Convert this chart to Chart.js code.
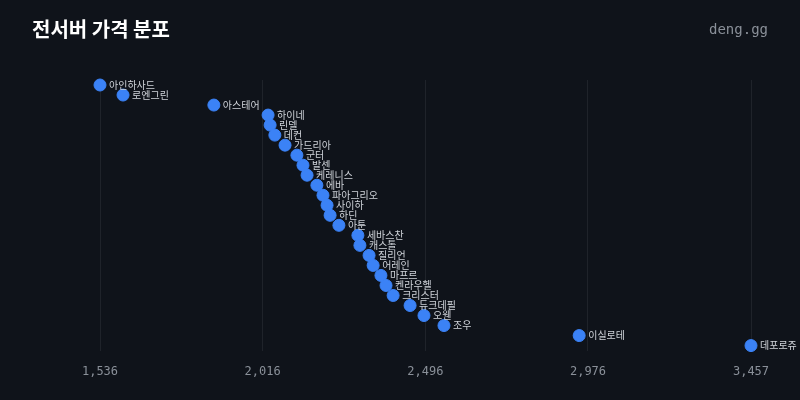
<!DOCTYPE html>
<html><head><meta charset="utf-8">
<script src="https://cdn.jsdelivr.net/npm/chart.js@4"></script>
<style>
body{margin:0;background:#0f131a;width:800px;height:400px;overflow:hidden;position:relative}
#t{position:absolute;left:32px;top:14px;color:#fff;font:bold 20px "Noto Sans CJK KR";}
#b{position:absolute;right:32px;top:21px;color:#8a9099;font:14px "DejaVu Sans Mono";}
canvas{position:absolute;left:0;top:0}
</style></head><body>
<canvas id="c" width="800" height="400"></canvas>
<div id="t">전서버 가격 분포</div><div id="b">deng.gg</div>
<script>
const servers=["아인하사드","로엔그린","아스테어","하이네","린델","데컨","가드리아","군터","발센","케레니스","에바","파아그리오","사이하","하딘","아툰","세바스찬","캐스톨","질리언","어레인","마프르","켄라우헬","크리스터","듀크데필","오웬","조우","이실로테","데포로쥬"];
const prices=[1536,1604,1872,2032,2038,2052,2082,2117,2135,2147,2176,2194,2206,2215,2241,2297,2303,2330,2342,2365,2380,2401,2451,2492,2551,2950,3457];
const tickValues=[1536,2016,2496,2976,3457];
const labelPlugin={id:'lbl',afterDatasetsDraw(ch){const ctx=ch.ctx;const m=ch.getDatasetMeta(0);ctx.save();ctx.font='10px "Noto Sans CJK KR"';ctx.fillStyle='#d0d4da';ctx.textBaseline='middle';m.data.forEach((p,i)=>ctx.fillText(servers[i],p.x+9,p.y));ctx.restore();}};
new Chart(document.getElementById('c'),{type:'scatter',
data:{datasets:[{data:servers.map((s,i)=>({x:prices[i],y:s})),backgroundColor:'#3b82f6',borderColor:'#3b82f6',pointRadius:6,pointHoverRadius:6,clip:false}]},
options:{responsive:false,animation:false,devicePixelRatio:1,
layout:{padding:{left:100,right:49,top:80,bottom:7}},
plugins:{legend:{display:false},tooltip:{enabled:false}},
scales:{
x:{type:'linear',min:1536,max:3457,afterBuildTicks(s){s.ticks=tickValues.map(v=>({value:v}));},
grid:{color:'rgba(255,255,255,0.07)',drawTicks:false},border:{display:false},
ticks:{color:'#8a9099',padding:14,font:{family:'DejaVu Sans Mono',size:12},callback:v=>v.toLocaleString('en-US')}},
y:{type:'category',labels:servers,offset:true,display:false}
}},plugins:[labelPlugin]});
</script>
</body></html>
